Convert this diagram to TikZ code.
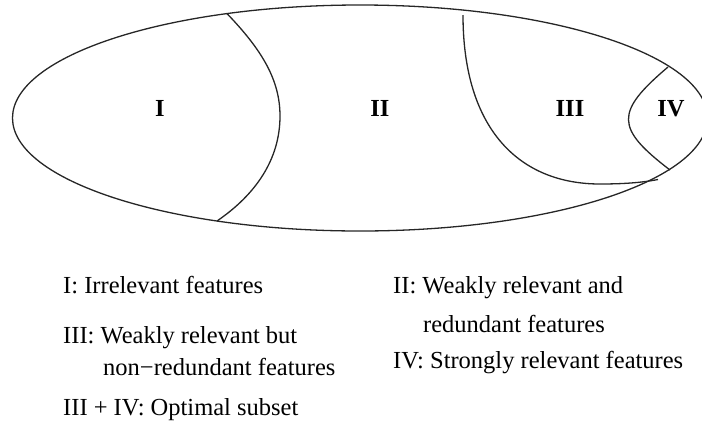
\documentclass[tikz,border=0pt]{standalone}
\usepackage{fontspec}
\setmainfont{Liberation Serif}

\tikzset{
    region/.style={font=\fontsize{24.5}{28}\selectfont\bfseries, anchor=base},
    legend/.style={font=\fontsize{24.5}{28}\selectfont, anchor=base west, inner sep=0pt},
    border/.style={line width=1.3pt, draw=black!85}
}

\begin{document}
\begin{tikzpicture}[x=1pt, y=-1pt]
        \useasboundingbox (0,0) rectangle (702,424);
        \clip (0,0) rectangle (702,424);

        % Whole feature set
        \draw[border] (360,118) ellipse [x radius=347.5, y radius=113];

        % I / II boundary
        \draw[border] (227,13.6) .. controls (262,50) and (280,80) .. (280,116)
            .. controls (280,160) and (255,195) .. (217,221);

        % III boundary
        \draw[border] (463,15) .. controls (463,130) and (520,184) .. (600,184)
            .. controls (628,184) and (645,182) .. (658,179.5);

        % IV boundary
        \draw[border] (668,67) .. controls (615,112) and (615,128) .. (670,170);

        % Region labels
        \node[region] (rI) at (160,116) {I};
        \node[region] (rII) at (380,116) {II};
        \node[region] (rIII) at (570,116) {III};
        \node[region] (rIV) at (671,116) {IV};

        % Legend, left column
        \node[legend] (legI) at (63,293) {I: Irrelevant features};
        \node[legend] (legIIIa) at (63,343) {III: Weakly relevant but};
        \node[legend] (legIIIb) at (103,375) {non−redundant features};
        \node[legend] (legOpt) at (63,415) {III + IV: Optimal subset};

        % Legend, right column
        \node[legend] (legIIa) at (393,293) {II: Weakly relevant and};
        \node[legend] (legIIb) at (423,332) {redundant features};
        \node[legend] (legIV) at (393,368) {IV: Strongly relevant features};
    \end{tikzpicture}
\end{document}
